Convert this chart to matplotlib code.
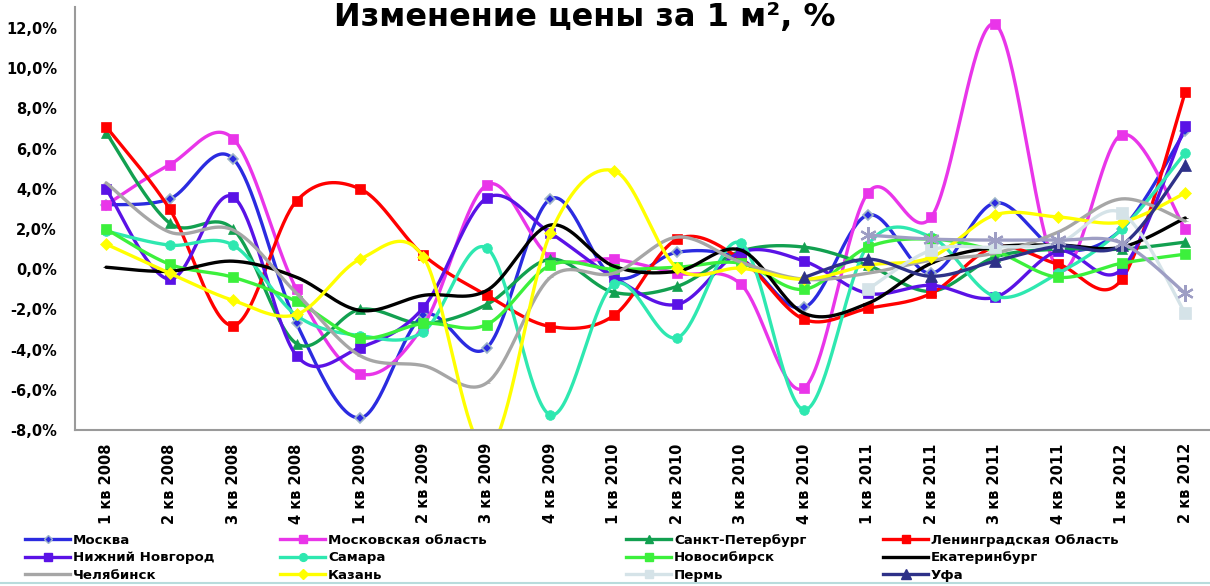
import numpy as np
import matplotlib
matplotlib.use("Agg")
import matplotlib.pyplot as plt
from matplotlib.lines import Line2D

plt.rcParams['font.family'] = ['DejaVu Sans']

nan = np.nan
quarters = ['1 кв 2008', '2 кв 2008', '3 кв 2008', '4 кв 2008',
            '1 кв 2009', '2 кв 2009', '3 кв 2009', '4 кв 2009',
            '1 кв 2010', '2 кв 2010', '3 кв 2010', '4 кв 2010',
            '1 кв 2011', '2 кв 2011', '3 кв 2011', '4 кв 2011',
            '1 кв 2012', '2 кв 2012']

# price change per quarter, %
moskva = [3.2, 3.5, 5.5, -2.7, -7.4, -2.3, -3.9, 3.5, -0.4, 0.85, 0.5, -1.9, 2.7, -0.2, 3.3, 1.0, 2.0, 6.9]
mos_obl = [3.2, 5.2, 6.5, -1.0, -5.2, -2.8, 4.2, 0.6, 0.5, -0.2, -0.75, -5.9, 3.8, 2.6, 12.2, 0.0, 6.7, 2.0]
spb = [6.8, 2.3, 2.0, -3.7, -2.0, -2.7, -1.75, 0.5, -1.15, -0.85, 0.9, 1.1, 0.2, -1.1, 0.6, 1.0, 1.0, 1.35]
len_obl = [7.1, 3.0, -2.8, 3.4, 4.0, 0.7, -1.3, -2.85, -2.3, 1.5, 0.5, -2.5, -1.95, -1.2, 1.1, 0.25, -0.5, 8.8]
n_novgorod = [4.0, -0.5, 3.6, -4.3, -3.9, -1.9, 3.55, 1.8, -0.4, -1.75, 0.85, 0.4, -1.2, -0.8, -1.4, 0.9, 0.0, 7.15]
samara = [1.9, 1.2, 1.2, -2.3, -3.3, -3.1, 1.05, -7.25, -0.75, -3.4, 1.3, -7.0, 1.2, 1.6, -1.35, -0.2, 2.0, 5.8]
novosib = [2.0, 0.25, -0.4, -1.6, -3.4, -2.7, -2.75, 0.2, 0.0, 0.1, 0.3, -1.0, 1.1, 1.5, 0.9, -0.4, 0.3, 0.75]
ekb = [0.1, -0.1, 0.4, -0.4, -2.05, -1.3, -1.05, 2.2, 0.15, -0.1, 0.95, -2.2, -1.7, 0.3, 1.1, 1.2, 1.1, 2.55]
chel = [4.3, 1.85, 1.95, -1.2, -4.3, -4.8, -5.65, -0.4, -0.2, 1.6, 0.35, -0.5, -0.2, 0.45, 0.8, 1.85, 3.5, 2.4]
kazan = [1.25, -0.2, -1.55, -2.25, 0.5, 0.6, -9.0, 1.8, 4.9, 0.05, 0.05, -0.5, 0.2, 0.6, 2.7, 2.6, 2.35, 3.8]
perm = [nan] * 12 + [-1.0, 0.95, 1.1, 1.3, 2.8, -2.2]
ufa = [nan] * 11 + [-0.4, 0.5, -0.35, 0.4, 1.15, 1.2, 5.2]
other = [nan] * 12 + [1.7, 1.5, 1.45, 1.45, 1.3, -1.2]

# (label, data, color, marker, markersize, marker edge)
series = [
    ('Москва', moskva, '#2B2BE0', 'D', 5, '#9DB5C8'),
    ('Московская область', mos_obl, '#E935E9', 's', 7, None),
    ('Санкт-Петербург', spb, '#12A050', '^', 7, None),
    ('Ленинградская Область', len_obl, '#FF0000', 's', 7, None),
    ('Нижний Новгород', n_novgorod, '#5A12E6', 's', 7, None),
    ('Самара', samara, '#2EE8B0', 'o', 7, None),
    ('Новосибирск', novosib, '#3CF03C', 's', 7, None),
    ('Екатеринбург', ekb, '#000000', '_', 4, None),
    ('Челябинск', chel, '#A6A6A6', '_', 4, None),
    ('Казань', kazan, '#FFFF00', 'D', 6, None),
    ('Пермь', perm, '#D5E3E8', 's', 8, None),
    ('Уфа', ufa, '#2E3188', '^', 9, None),
    ('_other', other, '#9E9EC4', (6, 2, 0), 12, None),
]


def smooth(xs, ys, n=40):
    # excel-like smoothed line: cubic bezier with catmull-rom control points
    px, py = [], []
    m = len(xs)
    for i in range(m - 1):
        i0 = max(i - 1, 0)
        i3 = min(i + 2, m - 1)
        b1x = xs[i] + (xs[i + 1] - xs[i0]) / 6
        b1y = ys[i] + (ys[i + 1] - ys[i0]) / 6
        b2x = xs[i + 1] - (xs[i3] - xs[i]) / 6
        b2y = ys[i + 1] - (ys[i3] - ys[i]) / 6
        t = np.linspace(0, 1, n)
        a, b, c, d = (1 - t) ** 3, 3 * (1 - t) ** 2 * t, 3 * (1 - t) * t ** 2, t ** 3
        px.extend(a * xs[i] + b * b1x + c * b2x + d * xs[i + 1])
        py.extend(a * ys[i] + b * b1y + c * b2y + d * ys[i + 1])
    return px, py


fig = plt.figure(figsize=(12.1, 5.86), dpi=100)
ax = fig.add_axes([75 / 1210, 156 / 586, 1 - 75 / 1210, 423 / 586])

x = np.arange(len(quarters))
handles = []
for label, vals, color, marker, ms, edge in series:
    vals = np.array(vals, dtype=float)
    ok = ~np.isnan(vals)
    sx, sy = smooth(x[ok], vals[ok])
    ax.plot(sx, sy, color=color, lw=2.4, solid_capstyle='round')
    if label.startswith('_'):
        ax.plot(x[ok], vals[ok], ls='none', marker=marker, ms=ms, mew=1.6, color=color)
        continue
    ax.plot(x[ok], vals[ok], ls='none', marker=marker, ms=ms, color=color,
            mec=edge if edge else color, mew=1.2 if edge else 0.5)
    handles.append(Line2D([], [], color=color, lw=2.4, marker=marker, ms=ms * 0.8,
                          mec=edge if edge else color, label=label))

ax.set_xlim(-0.49, 17.39)
ax.set_ylim(-8, 13.05)
ax.set_yticks(np.arange(-8, 13, 2))
ax.set_yticklabels([f'{v:.1f}%'.replace('.', ',') for v in np.arange(-8, 13, 2)],
                   fontsize=10.5, fontweight='bold')
ax.set_xticks(x)
ax.set_xticklabels(quarters, rotation=90, fontsize=10.5, fontweight='bold')
ax.tick_params(axis='y', length=0, pad=13)
ax.tick_params(axis='x', length=0, pad=9.5)
for side in ['top', 'right']:
    ax.spines[side].set_visible(False)
for side in ['left', 'bottom']:
    ax.spines[side].set_color('#9A9A9A')
    ax.spines[side].set_linewidth(1.5)

fig.text(0.483, 1 - 26 / 586, 'Изменение цены за 1 м², %', ha='center', va='baseline',
         fontsize=23, fontweight='bold')

# legend: 4 columns, row-major order as in the original
col_x = [25, 280, 626, 883]
for c in range(4):
    fig.legend(handles=handles[c::4], loc='upper left',
               bbox_to_anchor=(col_x[c] / 1210, 1 - 534 / 586),
               frameon=False, ncol=1, prop={'size': 9.6, 'weight': 'bold'},
               handlelength=3.4, handletextpad=0.2, labelspacing=0.32,
               borderpad=0, borderaxespad=0)

fig.add_artist(Line2D([0, 1], [3 / 586, 3 / 586], color='#B8DCDC', lw=1.5))

fig.savefig('out.png', dpi=100)
